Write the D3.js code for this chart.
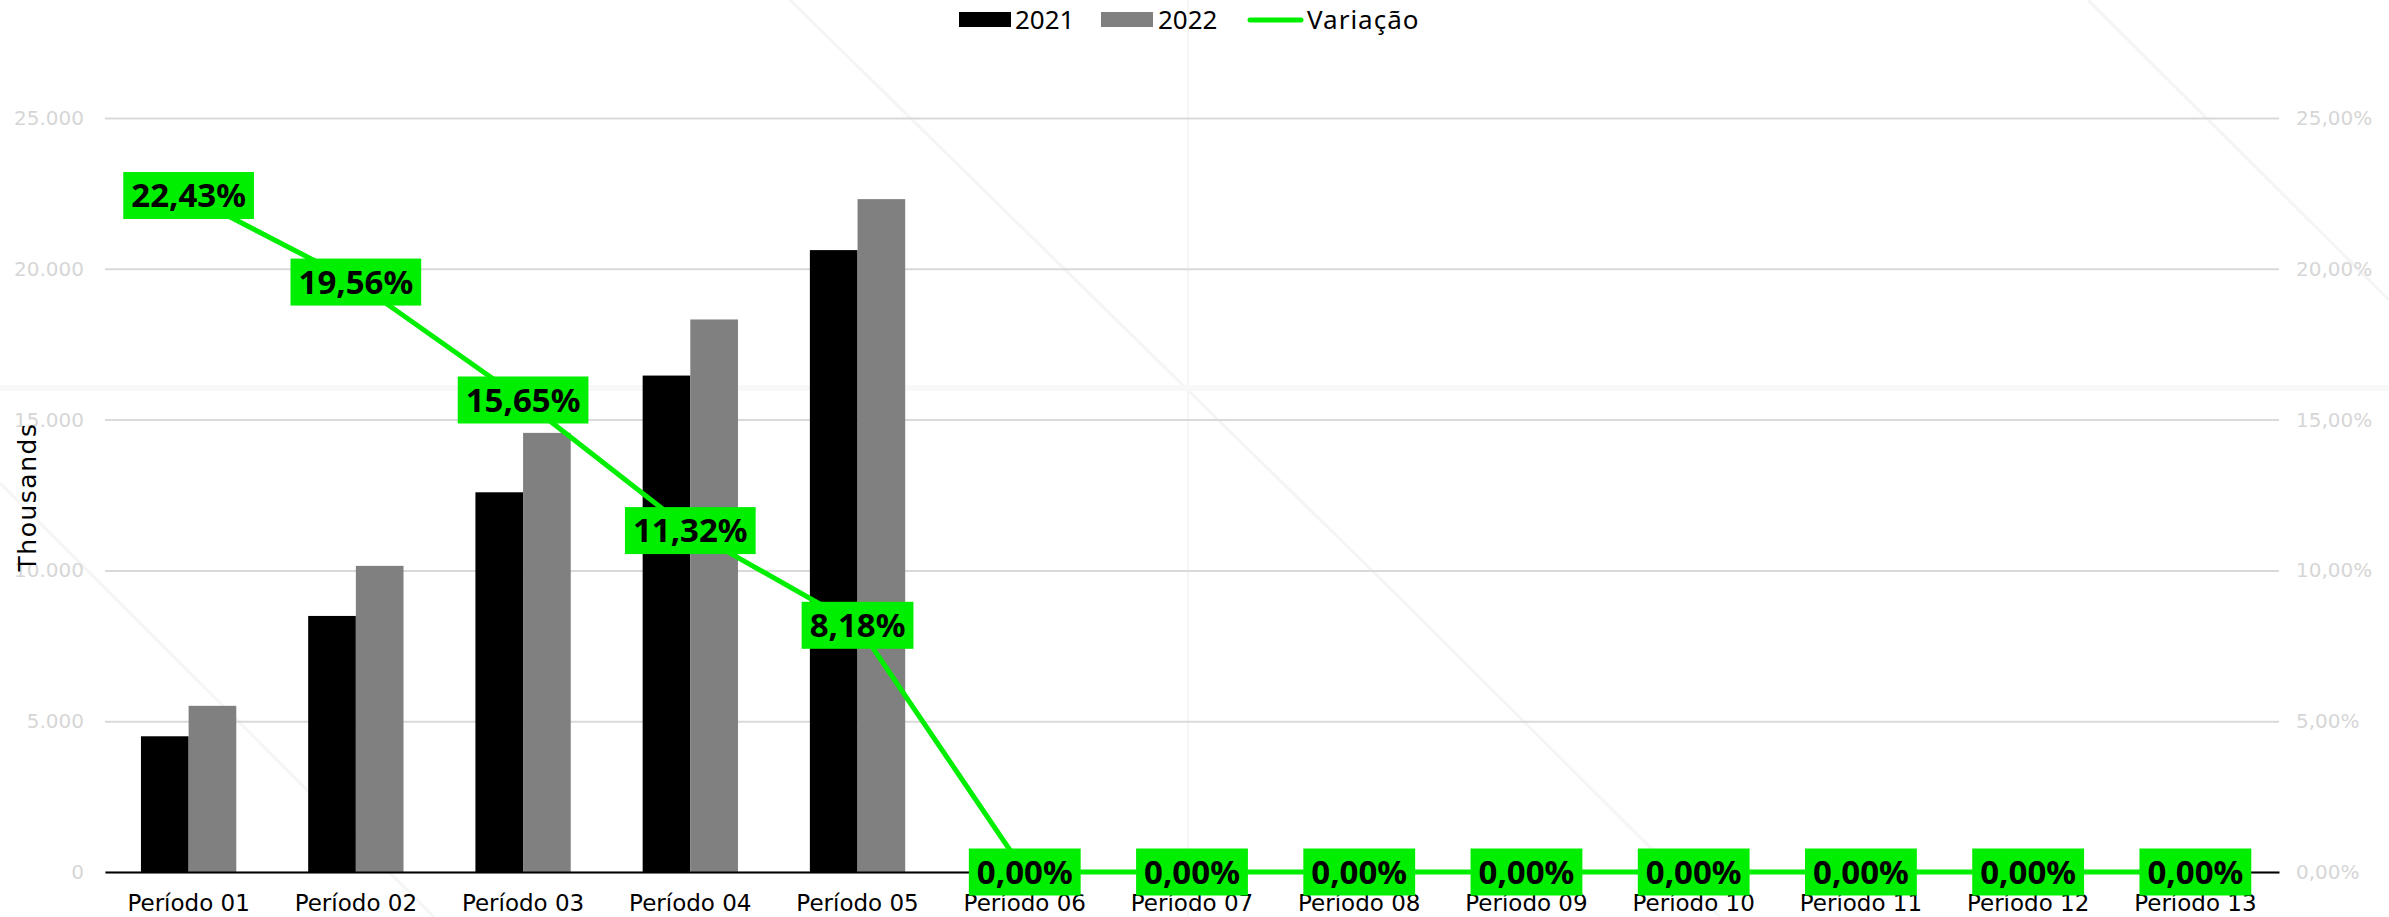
<!DOCTYPE html>
<html>
<head>
<meta charset="utf-8">
<script src="https://cdn.jsdelivr.net/npm/d3@7"></script>
<style>
  body{margin:0;background:#fff;}
  svg{display:block;}
</style>
</head>
<body>
<svg id="chart"></svg>
<script>
// valores
const categorias = ['Período 01','Período 02','Período 03','Período 04','Período 05','Período 06','Período 07',
  'Período 08','Período 09','Período 10','Período 11','Período 12','Período 13'];
const valores2021 = [4500, 8490, 12590, 16460, 20620, 0, 0, 0, 0, 0, 0, 0, 0];
const valores2022 = [5510, 10150, 14560, 18320, 22310, 0, 0, 0, 0, 0, 0, 0, 0];
const variacao = [22.43, 19.56, 15.65, 11.32, 8.18, 0, 0, 0, 0, 0, 0, 0, 0];
const ticksEsq = [0, 5000, 10000, 15000, 20000, 25000];
const ticksDir = [0, 5, 10, 15, 20, 25];
const series = ['2021','2022'];

const width = 2389, height = 917;
const m = {top:118, right:110, bottom:45, left:105};
const verde = '#00ee00';

const svg = d3.select('#chart').attr('width',width).attr('height',height);

// linhas de fundo bem claras (marca d'agua)
const fundo = svg.append('g').attr('stroke','#f5f5f5').attr('fill','none');
fundo.append('line').attr('x1',790).attr('y1',0).attr('x2',1402).attr('y2',600).attr('stroke-width',3);
fundo.append('line').attr('x1',1402).attr('y1',600).attr('x2',1720).attr('y2',917).attr('stroke-width',3);
fundo.append('line').attr('x1',2088).attr('y1',0).attr('x2',2389).attr('y2',300).attr('stroke-width',3);
fundo.append('line').attr('x1',0).attr('y1',483).attr('x2',434).attr('y2',917).attr('stroke-width',3);
fundo.append('line').attr('x1',1188).attr('y1',0).attr('x2',1188).attr('y2',917).attr('stroke-width',2);
fundo.append('line').attr('x1',0).attr('y1',388).attr('x2',width).attr('y2',388).attr('stroke-width',6).attr('stroke','#f8f8f8');

const x = d3.scaleBand().domain(categorias)
  .range([m.left, width-m.right]).paddingInner(0.43).paddingOuter(0.215);
const xs = d3.scaleBand().domain(series).range([0, x.bandwidth()]);
const y = d3.scaleLinear().domain([0,25000]).range([height-m.bottom, m.top]);
const y2 = d3.scaleLinear().domain([0,25]).range([height-m.bottom, m.top]);

const fmtEsq = v => v===0 ? '0' : d3.format(',')(v).replace(/,/g,'.');
const fmtDir = v => v.toFixed(2).replace('.',',') + '%';

// eixo esquerdo + grade
const gy = svg.append('g').attr('transform',`translate(${m.left},0)`)
  .call(d3.axisLeft(y).tickValues(ticksEsq).tickFormat(fmtEsq).tickSize(-(width-m.left-m.right)).tickPadding(21));
gy.select('.domain').remove();
gy.selectAll('line').attr('stroke','#d9d9d9').attr('stroke-width',2);
gy.selectAll('text').attr('fill','#d6d6d6').style('font-family','DejaVu Sans').style('font-size','20px');

// eixo direito
const gy2 = svg.append('g').attr('transform',`translate(${width-m.right},0)`)
  .call(d3.axisRight(y2).tickValues(ticksDir).tickFormat(fmtDir).tickSize(0).tickPadding(17));
gy2.select('.domain').remove();
gy2.selectAll('text').attr('fill','#d6d6d6').style('font-family','DejaVu Sans').style('font-size','20px');

// titulo eixo
svg.append('text')
  .attr('transform',`translate(36,497) rotate(-90)`)
  .attr('text-anchor','middle')
  .style('font-family','DejaVu Sans').style('font-size','25px').style('letter-spacing','1.5px')
  .attr('fill','#000').text('Thousands');

// barras
const cores = {'2021':'#000000','2022':'#808080'};
const dados = [valores2021, valores2022];
series.forEach((s,i)=>{
  svg.append('g').selectAll('rect')
    .data(categorias.map((c,j)=>({c, v:dados[i][j]})))
    .join('rect')
      .attr('x',d=>x(d.c)+xs(s))
      .attr('y',d=>y(d.v))
      .attr('width',xs.bandwidth())
      .attr('height',d=>y(0)-y(d.v))
      .attr('fill',cores[s]);
});

// eixo x
const gx = svg.append('g').attr('transform',`translate(0,${height-m.bottom})`)
  .call(d3.axisBottom(x).tickSize(0));
gx.select('.domain').attr('stroke','#000').attr('stroke-width',2);
gx.selectAll('text').attr('dy',null).attr('y',39).attr('fill','#000')
  .style('font-family','DejaVu Sans').style('font-size','23px');

// linha de variação
const pts = categorias.map((c,i)=>({c, v:variacao[i]}));
svg.append('path').datum(pts)
  .attr('fill','none').attr('stroke',verde).attr('stroke-width',5)
  .attr('d',d3.line().x(d=>x(d.c)+x.bandwidth()/2).y(d=>y2(d.v)));

// rotulos
const rot = svg.append('g').selectAll('g').data(pts).join('g')
  .attr('transform',d=>`translate(${x(d.c)+x.bandwidth()/2},${y2(d.v)})`);
rot.append('rect').attr('fill',verde);
rot.append('text')
  .attr('text-anchor','middle').attr('dy','0.36em')
  .style('font-family','Noto Sans').style('font-weight','700').style('font-size','33px')
  .attr('fill','#000')
  .text(d=>fmtDir(d.v));
rot.each(function(){
  const g = d3.select(this);
  const w = g.select('text').node().getComputedTextLength();
  g.select('rect').attr('x',-w/2-8).attr('y',-23.5).attr('width',w+16).attr('height',47);
});

// legenda
const leg = svg.append('g').style('font-family','Noto Sans').style('font-size','26px');
leg.append('rect').attr('x',959).attr('y',12).attr('width',52).attr('height',15).attr('fill','#000');
leg.append('text').attr('x',1015).attr('y',29).text('2021');
leg.append('rect').attr('x',1101).attr('y',12).attr('width',52).attr('height',15).attr('fill','#808080');
leg.append('text').attr('x',1158).attr('y',29).text('2022');
leg.append('line').attr('x1',1250).attr('x2',1301).attr('y1',20).attr('y2',20)
  .attr('stroke',verde).attr('stroke-width',5).attr('stroke-linecap','round');
leg.append('text').attr('x',1307).attr('y',29).style('letter-spacing','1px').text('Variação');
</script>
</body>
</html>
